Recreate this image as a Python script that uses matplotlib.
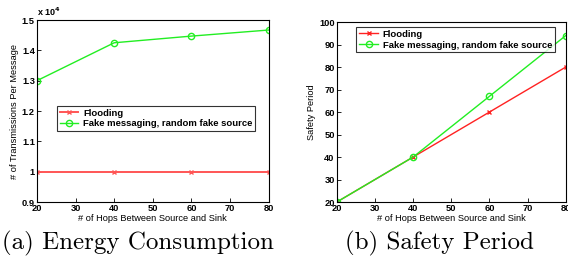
import matplotlib
matplotlib.use('Agg')
import matplotlib.pyplot as plt

hops = [20, 40, 60, 80]

# energy consumption (transmissions per message)
energyFlooding = [10000, 10000, 10000, 10000]
energyFake = [13000, 14250, 14470, 14670]

# safety period
safetyFlooding = [20, 40, 60, 80]
safetyFake = [20, 40, 67, 94]

labels = ['Flooding', 'Fake messaging, random fake source']

plt.rcParams['font.family'] = 'Liberation Sans'
plt.rcParams['font.weight'] = 'bold'
plt.rcParams['font.size'] = 6.5

fig = plt.figure(figsize=(5.68, 2.60), dpi=100)

def styleAxes(ax):
    ax.tick_params(direction='in', length=3, width=0.6, pad=1.5, labelsize=6.7)
    for s in ax.spines.values():
        s.set_linewidth(0.8)

# (a) energy
ax1 = fig.add_axes([0.065, 0.223, 0.408, 0.700])
ax1.plot(hops, energyFlooding, color='#ff5555', marker='x', markersize=3, linewidth=1.4, label=labels[0])
ax1.plot(hops, energyFake, color='#22ee22', marker='o', markersize=4.5, markerfacecolor='none', linewidth=1.0, label=labels[1])
ax1.set_xlim(20, 80)
ax1.set_ylim(9000, 15000)
ax1.set_xticks(range(20, 81, 10))
ax1.set_yticks([9000, 10000, 11000, 12000, 13000, 14000, 15000])
ax1.set_yticklabels(['0.9', '1', '1.1', '1.2', '1.3', '1.4', '1.5'])
ax1.text(0.0, 1.01, r'x 10$^4$', transform=ax1.transAxes, fontsize=6.5, ha='left', va='bottom')
ax1.set_xlabel('# of Hops Between Source and Sink', labelpad=0.5, fontsize=6.7)
ax1.set_ylabel('# of Transmissions Per Message', labelpad=2, fontsize=6.7)
styleAxes(ax1)
leg1 = ax1.legend(loc='upper left', bbox_to_anchor=(0.065, 0.555), frameon=True, fancybox=False,
                  edgecolor='black', borderpad=0.3, handlelength=2.0, labelspacing=0.2,
                  handletextpad=0.5, fontsize=6.8)
leg1.get_frame().set_linewidth(0.8)

# (b) safety period
ax2 = fig.add_axes([0.593, 0.223, 0.403, 0.692])
ax2.plot(hops, safetyFlooding, color='#ff2222', marker='x', markersize=3, linewidth=1.0, label=labels[0])
ax2.plot(hops, safetyFake, color='#22ee22', marker='o', markersize=4.5, markerfacecolor='none', linewidth=1.0, label=labels[1])
ax2.set_xlim(20, 80)
ax2.set_ylim(20, 100)
ax2.set_xticks(range(20, 81, 10))
ax2.set_yticks(range(20, 101, 10))
ax2.set_xlabel('# of Hops Between Source and Sink', labelpad=0.5, fontsize=6.7)
ax2.set_ylabel('Safety Period', labelpad=2, fontsize=6.7)
styleAxes(ax2)
leg2 = ax2.legend(loc='upper left', bbox_to_anchor=(0.065, 1.0), frameon=True, fancybox=False,
                  edgecolor='black', borderpad=0.3, handlelength=2.0, labelspacing=0.2,
                  handletextpad=0.5, fontsize=6.8)
leg2.get_frame().set_linewidth(0.8)

# captions
fig.text(0.243, 0.065, '(a) Energy Consumption', family='cmr10', fontsize=18, weight='normal', ha='center', va='center')
fig.text(0.773, 0.065, '(b) Safety Period', family='cmr10', fontsize=18, weight='normal', ha='center', va='center')

fig.savefig('out.png', dpi=100)
